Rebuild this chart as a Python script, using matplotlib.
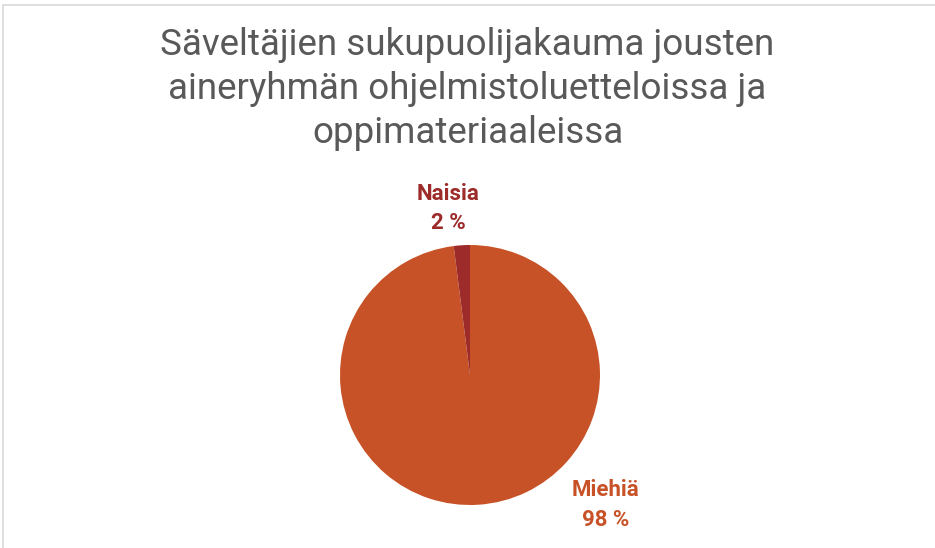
import matplotlib
matplotlib.use('Agg')
from matplotlib import pyplot as plt
from matplotlib.patches import Rectangle

# data
categories = ['Miehiä', 'Naisia']
shares = [98, 2]
colors = ['#C85227', '#9C2B2A']
title = 'Säveltäjien sukupuolijakauma jousten\naineryhmän ohjelmistoluetteloissa ja\noppimateriaaleissa'

plt.rcParams['font.family'] = ['Roboto', 'DejaVu Sans']

fig = plt.figure(figsize=(9.35, 5.48), dpi=100)
fig.patch.set_facecolor('white')

# thin gray frame like the source chart area
fig.patches.append(Rectangle((3 / 935, -0.01), 1.0, 1.0 - 5 / 548 + 0.01,
                             transform=fig.transFigure, fill=False,
                             edgecolor='#d9d9d9', linewidth=1.2))

fig.text(0.5, 1 - 27 / 548, title, ha='center', va='top', fontsize=26.5,
         color='#595959', linespacing=1.28)

ax = fig.add_axes([340 / 935, 43 / 548, 260 / 935, 260 / 548])
wedges, texts = ax.pie(shares, colors=colors, startangle=90, counterclock=False,
                       labels=[f'{c}\n{v} %' for c, v in zip(categories, shares)],
                       wedgeprops=dict(linewidth=0))
ax.set_xlim(-1, 1)
ax.set_ylim(-1, 1)
ax.set_aspect('equal')

# label placement as in the original
label_pos = [(1.04, -1.0), (-0.17, 1.28)]
for t, pos, col in zip(texts, label_pos, colors):
    t.set_position(pos)
    t.set_ha('center')
    t.set_va('center')
    t.set_color(col)
    t.set_fontsize(16)
    t.set_fontweight('bold')
    t.set_linespacing(1.45)

fig.savefig('out.png', dpi=100)
